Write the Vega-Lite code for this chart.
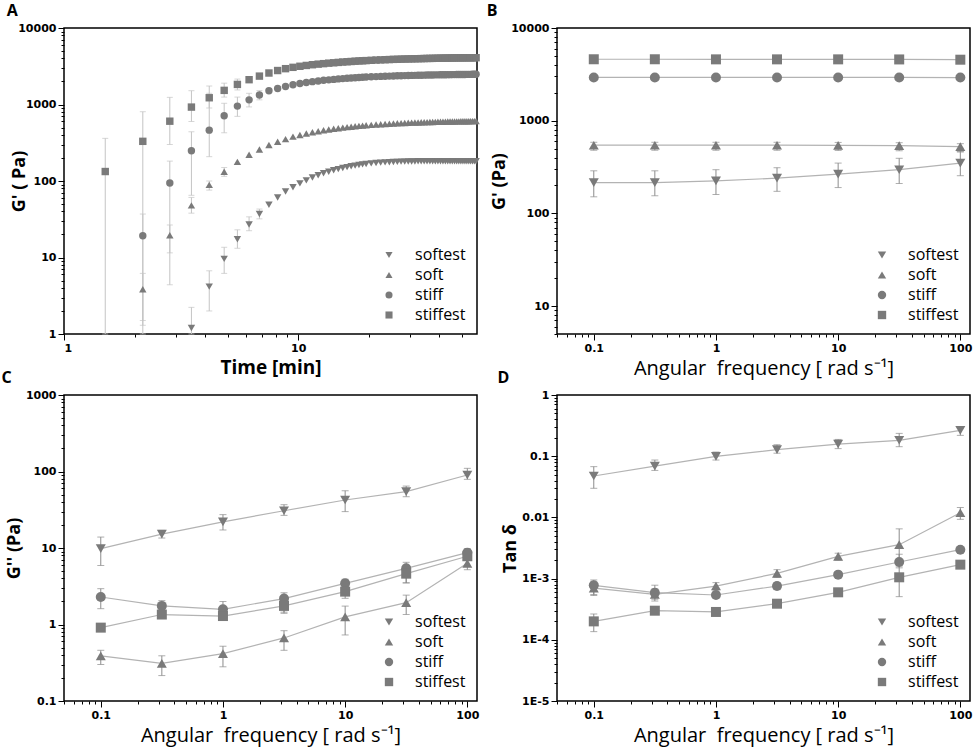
{
  "$schema": "https://vega.github.io/schema/vega-lite/v6.json",
  "padding": {"left": 0, "top": 2, "right": 2, "bottom": 2},
  "background": "white",
  "datasets": {
    "A": [
      {"s": "stiffest", "t": 1.5, "v": 133}, {"s": "stiffest", "t": 2.17, "v": 330}, {"s": "stiffest", "t": 2.83, "v": 605}, {"s": "stiffest", "t": 3.5, "v": 925},
      {"s": "stiffest", "t": 4.17, "v": 1225}, {"s": "stiffest", "t": 4.83, "v": 1530}, {"s": "stiffest", "t": 5.5, "v": 1830}, {"s": "stiffest", "t": 6.17, "v": 2110},
      {"s": "stiffest", "t": 6.83, "v": 2350}, {"s": "stiffest", "t": 7.5, "v": 2580}, {"s": "stiffest", "t": 8.17, "v": 2780}, {"s": "stiffest", "t": 8.83, "v": 2940},
      {"s": "stiffest", "t": 9.5, "v": 3060}, {"s": "stiffest", "t": 10.17, "v": 3160}, {"s": "stiffest", "t": 10.83, "v": 3240}, {"s": "stiffest", "t": 11.5, "v": 3310},
      {"s": "stiffest", "t": 12.17, "v": 3370}, {"s": "stiffest", "t": 12.83, "v": 3420}, {"s": "stiffest", "t": 13.5, "v": 3470}, {"s": "stiffest", "t": 14.17, "v": 3510},
      {"s": "stiffest", "t": 14.83, "v": 3550}, {"s": "stiffest", "t": 15.5, "v": 3590}, {"s": "stiffest", "t": 16.17, "v": 3620}, {"s": "stiffest", "t": 16.83, "v": 3650},
      {"s": "stiffest", "t": 17.5, "v": 3680}, {"s": "stiffest", "t": 18.17, "v": 3710}, {"s": "stiffest", "t": 18.83, "v": 3730}, {"s": "stiffest", "t": 19.5, "v": 3750},
      {"s": "stiffest", "t": 20.5, "v": 3780}, {"s": "stiffest", "t": 21.5, "v": 3810}, {"s": "stiffest", "t": 22.5, "v": 3830}, {"s": "stiffest", "t": 23.5, "v": 3850},
      {"s": "stiffest", "t": 24.5, "v": 3870}, {"s": "stiffest", "t": 25.5, "v": 3890}, {"s": "stiffest", "t": 26.5, "v": 3900}, {"s": "stiffest", "t": 27.5, "v": 3920},
      {"s": "stiffest", "t": 28.5, "v": 3930}, {"s": "stiffest", "t": 29.5, "v": 3940}, {"s": "stiffest", "t": 30.5, "v": 3950}, {"s": "stiffest", "t": 31.5, "v": 3960},
      {"s": "stiffest", "t": 32.5, "v": 3970}, {"s": "stiffest", "t": 33.5, "v": 3980}, {"s": "stiffest", "t": 34.5, "v": 3990}, {"s": "stiffest", "t": 35.5, "v": 4000},
      {"s": "stiffest", "t": 36.5, "v": 4005}, {"s": "stiffest", "t": 37.5, "v": 4010}, {"s": "stiffest", "t": 38.5, "v": 4020}, {"s": "stiffest", "t": 39.5, "v": 4025},
      {"s": "stiffest", "t": 40.5, "v": 4030}, {"s": "stiffest", "t": 41.5, "v": 4035}, {"s": "stiffest", "t": 42.5, "v": 4040}, {"s": "stiffest", "t": 43.5, "v": 4045},
      {"s": "stiffest", "t": 44.5, "v": 4050}, {"s": "stiffest", "t": 45.5, "v": 4055}, {"s": "stiffest", "t": 46.5, "v": 4060}, {"s": "stiffest", "t": 47.5, "v": 4065},
      {"s": "stiffest", "t": 48.5, "v": 4070}, {"s": "stiffest", "t": 49.5, "v": 4070}, {"s": "stiffest", "t": 50.5, "v": 4075}, {"s": "stiffest", "t": 51.5, "v": 4080},
      {"s": "stiffest", "t": 52.5, "v": 4080}, {"s": "stiffest", "t": 53.5, "v": 4085}, {"s": "stiffest", "t": 54.5, "v": 4085}, {"s": "stiffest", "t": 55.5, "v": 4090},
      {"s": "stiffest", "t": 56.5, "v": 4090}, {"s": "stiffest", "t": 57.5, "v": 4090},

      {"s": "stiff", "t": 2.17, "v": 19.2}, {"s": "stiff", "t": 2.83, "v": 94}, {"s": "stiff", "t": 3.5, "v": 248},
      {"s": "stiff", "t": 4.17, "v": 462}, {"s": "stiff", "t": 4.83, "v": 713}, {"s": "stiff", "t": 5.5, "v": 953}, {"s": "stiff", "t": 6.17, "v": 1150},
      {"s": "stiff", "t": 6.83, "v": 1330}, {"s": "stiff", "t": 7.5, "v": 1510}, {"s": "stiff", "t": 8.17, "v": 1620}, {"s": "stiff", "t": 8.83, "v": 1720},
      {"s": "stiff", "t": 9.5, "v": 1810}, {"s": "stiff", "t": 10.17, "v": 1880}, {"s": "stiff", "t": 10.83, "v": 1940}, {"s": "stiff", "t": 11.5, "v": 1990},
      {"s": "stiff", "t": 12.17, "v": 2030}, {"s": "stiff", "t": 12.83, "v": 2070}, {"s": "stiff", "t": 13.5, "v": 2100}, {"s": "stiff", "t": 14.17, "v": 2130},
      {"s": "stiff", "t": 14.83, "v": 2160}, {"s": "stiff", "t": 15.5, "v": 2180}, {"s": "stiff", "t": 16.17, "v": 2200}, {"s": "stiff", "t": 16.83, "v": 2220},
      {"s": "stiff", "t": 17.5, "v": 2240}, {"s": "stiff", "t": 18.17, "v": 2255}, {"s": "stiff", "t": 18.83, "v": 2270}, {"s": "stiff", "t": 19.5, "v": 2285},
      {"s": "stiff", "t": 20.5, "v": 2300}, {"s": "stiff", "t": 21.5, "v": 2315}, {"s": "stiff", "t": 22.5, "v": 2330}, {"s": "stiff", "t": 23.5, "v": 2340},
      {"s": "stiff", "t": 24.5, "v": 2350}, {"s": "stiff", "t": 25.5, "v": 2360}, {"s": "stiff", "t": 26.5, "v": 2370}, {"s": "stiff", "t": 27.5, "v": 2380},
      {"s": "stiff", "t": 28.5, "v": 2385}, {"s": "stiff", "t": 29.5, "v": 2390}, {"s": "stiff", "t": 30.5, "v": 2400}, {"s": "stiff", "t": 31.5, "v": 2405},
      {"s": "stiff", "t": 32.5, "v": 2410}, {"s": "stiff", "t": 33.5, "v": 2415}, {"s": "stiff", "t": 34.5, "v": 2420}, {"s": "stiff", "t": 35.5, "v": 2425},
      {"s": "stiff", "t": 36.5, "v": 2430}, {"s": "stiff", "t": 37.5, "v": 2435}, {"s": "stiff", "t": 38.5, "v": 2440}, {"s": "stiff", "t": 39.5, "v": 2440},
      {"s": "stiff", "t": 40.5, "v": 2445}, {"s": "stiff", "t": 41.5, "v": 2450}, {"s": "stiff", "t": 42.5, "v": 2450}, {"s": "stiff", "t": 43.5, "v": 2455},
      {"s": "stiff", "t": 44.5, "v": 2455}, {"s": "stiff", "t": 45.5, "v": 2460}, {"s": "stiff", "t": 46.5, "v": 2460}, {"s": "stiff", "t": 47.5, "v": 2465},
      {"s": "stiff", "t": 48.5, "v": 2465}, {"s": "stiff", "t": 49.5, "v": 2470}, {"s": "stiff", "t": 50.5, "v": 2470}, {"s": "stiff", "t": 51.5, "v": 2470},
      {"s": "stiff", "t": 52.5, "v": 2475}, {"s": "stiff", "t": 53.5, "v": 2475}, {"s": "stiff", "t": 54.5, "v": 2475}, {"s": "stiff", "t": 55.5, "v": 2480},
      {"s": "stiff", "t": 56.5, "v": 2480}, {"s": "stiff", "t": 57.5, "v": 2480},

      {"s": "soft", "t": 2.17, "v": 3.84}, {"s": "soft", "t": 2.83, "v": 19.5}, {"s": "soft", "t": 3.5, "v": 48},
      {"s": "soft", "t": 4.17, "v": 89}, {"s": "soft", "t": 4.83, "v": 132}, {"s": "soft", "t": 5.5, "v": 178}, {"s": "soft", "t": 6.17, "v": 220},
      {"s": "soft", "t": 6.83, "v": 258}, {"s": "soft", "t": 7.5, "v": 295}, {"s": "soft", "t": 8.17, "v": 326}, {"s": "soft", "t": 8.83, "v": 353},
      {"s": "soft", "t": 9.5, "v": 380}, {"s": "soft", "t": 10.17, "v": 400}, {"s": "soft", "t": 10.83, "v": 418}, {"s": "soft", "t": 11.5, "v": 434},
      {"s": "soft", "t": 12.17, "v": 448}, {"s": "soft", "t": 12.83, "v": 460}, {"s": "soft", "t": 13.5, "v": 471}, {"s": "soft", "t": 14.17, "v": 481},
      {"s": "soft", "t": 14.83, "v": 490}, {"s": "soft", "t": 15.5, "v": 498}, {"s": "soft", "t": 16.17, "v": 506}, {"s": "soft", "t": 16.83, "v": 513},
      {"s": "soft", "t": 17.5, "v": 519}, {"s": "soft", "t": 18.17, "v": 525}, {"s": "soft", "t": 18.83, "v": 530}, {"s": "soft", "t": 19.5, "v": 535},
      {"s": "soft", "t": 20.5, "v": 541}, {"s": "soft", "t": 21.5, "v": 547}, {"s": "soft", "t": 22.5, "v": 552}, {"s": "soft", "t": 23.5, "v": 557},
      {"s": "soft", "t": 24.5, "v": 561}, {"s": "soft", "t": 25.5, "v": 565}, {"s": "soft", "t": 26.5, "v": 568}, {"s": "soft", "t": 27.5, "v": 571},
      {"s": "soft", "t": 28.5, "v": 574}, {"s": "soft", "t": 29.5, "v": 577}, {"s": "soft", "t": 30.5, "v": 579}, {"s": "soft", "t": 31.5, "v": 581},
      {"s": "soft", "t": 32.5, "v": 583}, {"s": "soft", "t": 33.5, "v": 585}, {"s": "soft", "t": 34.5, "v": 587}, {"s": "soft", "t": 35.5, "v": 589},
      {"s": "soft", "t": 36.5, "v": 590}, {"s": "soft", "t": 37.5, "v": 592}, {"s": "soft", "t": 38.5, "v": 593}, {"s": "soft", "t": 39.5, "v": 594},
      {"s": "soft", "t": 40.5, "v": 595}, {"s": "soft", "t": 41.5, "v": 596}, {"s": "soft", "t": 42.5, "v": 597}, {"s": "soft", "t": 43.5, "v": 598},
      {"s": "soft", "t": 44.5, "v": 599}, {"s": "soft", "t": 45.5, "v": 600}, {"s": "soft", "t": 46.5, "v": 601}, {"s": "soft", "t": 47.5, "v": 602},
      {"s": "soft", "t": 48.5, "v": 602}, {"s": "soft", "t": 49.5, "v": 603}, {"s": "soft", "t": 50.5, "v": 604}, {"s": "soft", "t": 51.5, "v": 604},
      {"s": "soft", "t": 52.5, "v": 605}, {"s": "soft", "t": 53.5, "v": 605}, {"s": "soft", "t": 54.5, "v": 606}, {"s": "soft", "t": 55.5, "v": 606},
      {"s": "soft", "t": 56.5, "v": 607}, {"s": "soft", "t": 57.5, "v": 607},

      {"s": "softest", "t": 3.5, "v": 1.2},
      {"s": "softest", "t": 4.17, "v": 4.16}, {"s": "softest", "t": 4.83, "v": 9.6}, {"s": "softest", "t": 5.5, "v": 17.3}, {"s": "softest", "t": 6.17, "v": 27},
      {"s": "softest", "t": 6.83, "v": 37}, {"s": "softest", "t": 7.5, "v": 49}, {"s": "softest", "t": 8.17, "v": 61}, {"s": "softest", "t": 8.83, "v": 73},
      {"s": "softest", "t": 9.5, "v": 83}, {"s": "softest", "t": 10.17, "v": 93}, {"s": "softest", "t": 10.83, "v": 102}, {"s": "softest", "t": 11.5, "v": 111},
      {"s": "softest", "t": 12.17, "v": 119}, {"s": "softest", "t": 12.83, "v": 126}, {"s": "softest", "t": 13.5, "v": 132}, {"s": "softest", "t": 14.17, "v": 138},
      {"s": "softest", "t": 14.83, "v": 143}, {"s": "softest", "t": 15.5, "v": 148}, {"s": "softest", "t": 16.17, "v": 152}, {"s": "softest", "t": 16.83, "v": 156},
      {"s": "softest", "t": 17.5, "v": 159}, {"s": "softest", "t": 18.17, "v": 162}, {"s": "softest", "t": 18.83, "v": 165}, {"s": "softest", "t": 19.5, "v": 167},
      {"s": "softest", "t": 20.5, "v": 170}, {"s": "softest", "t": 21.5, "v": 172}, {"s": "softest", "t": 22.5, "v": 174}, {"s": "softest", "t": 23.5, "v": 175},
      {"s": "softest", "t": 24.5, "v": 176}, {"s": "softest", "t": 25.5, "v": 177}, {"s": "softest", "t": 26.5, "v": 178}, {"s": "softest", "t": 27.5, "v": 179},
      {"s": "softest", "t": 28.5, "v": 179}, {"s": "softest", "t": 29.5, "v": 180}, {"s": "softest", "t": 30.5, "v": 180}, {"s": "softest", "t": 31.5, "v": 180},
      {"s": "softest", "t": 32.5, "v": 181}, {"s": "softest", "t": 33.5, "v": 181}, {"s": "softest", "t": 34.5, "v": 181}, {"s": "softest", "t": 35.5, "v": 181},
      {"s": "softest", "t": 36.5, "v": 181}, {"s": "softest", "t": 37.5, "v": 181}, {"s": "softest", "t": 38.5, "v": 181}, {"s": "softest", "t": 39.5, "v": 181},
      {"s": "softest", "t": 40.5, "v": 181}, {"s": "softest", "t": 41.5, "v": 181}, {"s": "softest", "t": 42.5, "v": 181}, {"s": "softest", "t": 43.5, "v": 181},
      {"s": "softest", "t": 44.5, "v": 181}, {"s": "softest", "t": 45.5, "v": 181}, {"s": "softest", "t": 46.5, "v": 181}, {"s": "softest", "t": 47.5, "v": 181},
      {"s": "softest", "t": 48.5, "v": 181}, {"s": "softest", "t": 49.5, "v": 181}, {"s": "softest", "t": 50.5, "v": 181}, {"s": "softest", "t": 51.5, "v": 181},
      {"s": "softest", "t": 52.5, "v": 181}, {"s": "softest", "t": 53.5, "v": 181}, {"s": "softest", "t": 54.5, "v": 181}, {"s": "softest", "t": 55.5, "v": 181},
      {"s": "softest", "t": 56.5, "v": 181}, {"s": "softest", "t": 57.5, "v": 181}
    ],
    "Aerr": [
      {"s": "stiffest", "t": 1.5, "lo": 1, "hi": 361},
      {"s": "stiffest", "t": 2.17, "lo": 1, "hi": 805},
      {"s": "stiff", "t": 2.17, "lo": 1.3, "hi": 37},
      {"s": "soft", "t": 2.17, "lo": 1.5, "hi": 6.2},
      {"s": "stiffest", "t": 2.83, "lo": 300, "hi": 1240},
      {"s": "stiff", "t": 2.83, "lo": 4.4, "hi": 182},
      {"s": "soft", "t": 2.83, "lo": 11.5, "hi": 26.6},
      {"s": "stiffest", "t": 3.5, "lo": 600, "hi": 1515},
      {"s": "stiff", "t": 3.5, "lo": 65, "hi": 440},
      {"s": "soft", "t": 3.5, "lo": 38, "hi": 61},
      {"s": "softest", "t": 3.5, "lo": 1, "hi": 2.23},
      {"s": "stiffest", "t": 4.17, "lo": 900, "hi": 1745},
      {"s": "stiff", "t": 4.17, "lo": 208, "hi": 1400},
      {"s": "soft", "t": 4.17, "lo": 76, "hi": 100},
      {"s": "softest", "t": 4.17, "lo": 2.0, "hi": 6.7},
      {"s": "stiffest", "t": 4.83, "lo": 1250, "hi": 1900},
      {"s": "stiff", "t": 4.83, "lo": 427, "hi": 1037},
      {"s": "soft", "t": 4.83, "lo": 115, "hi": 150},
      {"s": "softest", "t": 4.83, "lo": 6.2, "hi": 13.6},
      {"s": "stiffest", "t": 5.5, "lo": 1550, "hi": 2150},
      {"s": "stiff", "t": 5.5, "lo": 700, "hi": 1250},
      {"s": "softest", "t": 5.5, "lo": 13.2, "hi": 23},
      {"s": "stiff", "t": 6.17, "lo": 930, "hi": 1400},
      {"s": "softest", "t": 6.17, "lo": 22.4, "hi": 34},
      {"s": "stiff", "t": 6.83, "lo": 1150, "hi": 1520},
      {"s": "softest", "t": 6.83, "lo": 32, "hi": 43}
    ],
    "B": [
      {"s": "softest", "w": 0.1, "v": 215, "lo": 151, "hi": 288},
      {"s": "softest", "w": 0.316, "v": 215, "lo": 155, "hi": 288},
      {"s": "softest", "w": 1, "v": 224, "lo": 160, "hi": 296},
      {"s": "softest", "w": 3.16, "v": 240, "lo": 173, "hi": 311},
      {"s": "softest", "w": 10, "v": 265, "lo": 190, "hi": 349},
      {"s": "softest", "w": 31.6, "v": 296, "lo": 210, "hi": 393},
      {"s": "softest", "w": 100, "v": 349, "lo": 255, "hi": 464},
      {"s": "soft", "w": 0.1, "v": 544, "lo": 480, "hi": 585},
      {"s": "soft", "w": 0.316, "v": 544, "lo": 480, "hi": 585},
      {"s": "soft", "w": 1, "v": 544, "lo": 480, "hi": 585},
      {"s": "soft", "w": 3.16, "v": 544, "lo": 480, "hi": 585},
      {"s": "soft", "w": 10, "v": 542, "lo": 478, "hi": 583},
      {"s": "soft", "w": 31.6, "v": 538, "lo": 474, "hi": 579},
      {"s": "soft", "w": 100, "v": 525, "lo": 460, "hi": 565},
      {"s": "stiff", "w": 0.1, "v": 2930, "lo": 2820, "hi": 3030},
      {"s": "stiff", "w": 0.316, "v": 2930, "lo": 2820, "hi": 3030},
      {"s": "stiff", "w": 1, "v": 2930, "lo": 2820, "hi": 3030},
      {"s": "stiff", "w": 3.16, "v": 2930, "lo": 2820, "hi": 3030},
      {"s": "stiff", "w": 10, "v": 2930, "lo": 2820, "hi": 3030},
      {"s": "stiff", "w": 31.6, "v": 2930, "lo": 2820, "hi": 3030},
      {"s": "stiff", "w": 100, "v": 2920, "lo": 2810, "hi": 3020},
      {"s": "stiffest", "w": 0.1, "v": 4600, "lo": 4450, "hi": 4750},
      {"s": "stiffest", "w": 0.316, "v": 4600, "lo": 4450, "hi": 4750},
      {"s": "stiffest", "w": 1, "v": 4590, "lo": 4450, "hi": 4750},
      {"s": "stiffest", "w": 3.16, "v": 4590, "lo": 4450, "hi": 4750},
      {"s": "stiffest", "w": 10, "v": 4590, "lo": 4450, "hi": 4750},
      {"s": "stiffest", "w": 31.6, "v": 4580, "lo": 4450, "hi": 4750},
      {"s": "stiffest", "w": 100, "v": 4550, "lo": 4400, "hi": 4700}
    ],
    "C": [
      {"s": "softest", "w": 0.1, "v": 9.8, "lo": 5.9, "hi": 13.9},
      {"s": "softest", "w": 0.316, "v": 15.2, "lo": 13.5, "hi": 17},
      {"s": "softest", "w": 1, "v": 22, "lo": 17.2, "hi": 27.3},
      {"s": "softest", "w": 3.16, "v": 30.7, "lo": 26.7, "hi": 36.8},
      {"s": "softest", "w": 10, "v": 42.4, "lo": 29.9, "hi": 56},
      {"s": "softest", "w": 31.6, "v": 54.5, "lo": 46.8, "hi": 64.5},
      {"s": "softest", "w": 100, "v": 90, "lo": 79, "hi": 110},
      {"s": "soft", "w": 0.1, "v": 0.388, "lo": 0.3, "hi": 0.46},
      {"s": "soft", "w": 0.316, "v": 0.31, "lo": 0.215, "hi": 0.39},
      {"s": "soft", "w": 1, "v": 0.416, "lo": 0.28, "hi": 0.52},
      {"s": "soft", "w": 3.16, "v": 0.667, "lo": 0.46, "hi": 0.83},
      {"s": "soft", "w": 10, "v": 1.26, "lo": 0.73, "hi": 1.74},
      {"s": "soft", "w": 31.6, "v": 1.93, "lo": 1.35, "hi": 2.42},
      {"s": "soft", "w": 100, "v": 6.3, "lo": 5.2, "hi": 7.9},
      {"s": "stiff", "w": 0.1, "v": 2.29, "lo": 1.61, "hi": 2.94},
      {"s": "stiff", "w": 0.316, "v": 1.75, "lo": 1.47, "hi": 2.05},
      {"s": "stiff", "w": 1, "v": 1.58, "lo": 1.15, "hi": 2.0},
      {"s": "stiff", "w": 3.16, "v": 2.18, "lo": 1.4, "hi": 2.6},
      {"s": "stiff", "w": 10, "v": 3.45, "lo": 2.9, "hi": 3.9},
      {"s": "stiff", "w": 31.6, "v": 5.42, "lo": 3.5, "hi": 6.5},
      {"s": "stiff", "w": 100, "v": 8.7, "lo": 7.5, "hi": 9.8},
      {"s": "stiffest", "w": 0.1, "v": 0.91, "lo": 0.85, "hi": 0.97},
      {"s": "stiffest", "w": 0.316, "v": 1.35, "lo": 1.25, "hi": 1.45},
      {"s": "stiffest", "w": 1, "v": 1.29, "lo": 1.15, "hi": 1.45},
      {"s": "stiffest", "w": 3.16, "v": 1.75, "lo": 1.45, "hi": 2.0},
      {"s": "stiffest", "w": 10, "v": 2.69, "lo": 2.2, "hi": 3.1},
      {"s": "stiffest", "w": 31.6, "v": 4.62, "lo": 3.5, "hi": 5.5},
      {"s": "stiffest", "w": 100, "v": 7.8, "lo": 7.0, "hi": 8.5}
    ],
    "D": [
      {"s": "softest", "w": 0.1, "v": 0.0475, "lo": 0.0299, "hi": 0.0675},
      {"s": "softest", "w": 0.316, "v": 0.069, "lo": 0.0586, "hi": 0.0866},
      {"s": "softest", "w": 1, "v": 0.0995, "lo": 0.0866, "hi": 0.117},
      {"s": "softest", "w": 3.16, "v": 0.128, "lo": 0.112, "hi": 0.154},
      {"s": "softest", "w": 10, "v": 0.158, "lo": 0.133, "hi": 0.188},
      {"s": "softest", "w": 31.6, "v": 0.182, "lo": 0.143, "hi": 0.236},
      {"s": "softest", "w": 100, "v": 0.265, "lo": 0.219, "hi": 0.304},
      {"s": "soft", "w": 0.1, "v": 0.0007, "lo": 0.00055, "hi": 0.00088},
      {"s": "soft", "w": 0.316, "v": 0.000553, "lo": 0.00043, "hi": 0.00068},
      {"s": "soft", "w": 1, "v": 0.000756, "lo": 0.00065, "hi": 0.00086},
      {"s": "soft", "w": 3.16, "v": 0.00122, "lo": 0.00105, "hi": 0.0014},
      {"s": "soft", "w": 10, "v": 0.00231, "lo": 0.002, "hi": 0.0026},
      {"s": "soft", "w": 31.6, "v": 0.00358, "lo": 0.002, "hi": 0.0065},
      {"s": "soft", "w": 100, "v": 0.0119, "lo": 0.0093, "hi": 0.0145},
      {"s": "stiff", "w": 0.1, "v": 0.000776, "lo": 0.00053, "hi": 0.00095},
      {"s": "stiff", "w": 0.316, "v": 0.000589, "lo": 0.00046, "hi": 0.00078},
      {"s": "stiff", "w": 1, "v": 0.00054, "lo": 0.00049, "hi": 0.0006},
      {"s": "stiff", "w": 3.16, "v": 0.000756, "lo": 0.00066, "hi": 0.00086},
      {"s": "stiff", "w": 10, "v": 0.00116, "lo": 0.00105, "hi": 0.00128},
      {"s": "stiff", "w": 31.6, "v": 0.00187, "lo": 0.0015, "hi": 0.0025},
      {"s": "stiff", "w": 100, "v": 0.00297, "lo": 0.0027, "hi": 0.0032},
      {"s": "stiffest", "w": 0.1, "v": 0.0002, "lo": 0.000136, "hi": 0.000264},
      {"s": "stiffest", "w": 0.316, "v": 0.000299, "lo": 0.000275, "hi": 0.00032},
      {"s": "stiffest", "w": 1, "v": 0.000285, "lo": 0.000265, "hi": 0.000305},
      {"s": "stiffest", "w": 3.16, "v": 0.000389, "lo": 0.00036, "hi": 0.00042},
      {"s": "stiffest", "w": 10, "v": 0.000597, "lo": 0.00055, "hi": 0.00065},
      {"s": "stiffest", "w": 31.6, "v": 0.00105, "lo": 0.000507, "hi": 0.0016},
      {"s": "stiffest", "w": 100, "v": 0.00169, "lo": 0.00155, "hi": 0.00185}
    ]
  },
  "columns": 2,
  "spacing": {"row": -10, "column": 4},
  "resolve": {"scale": {"shape": "independent"}},
  "concat": [
    {
      "title": {"text": "A", "dx": -4},
      "width": 413,
      "height": 306,
      "layer": [
        {
          "data": {"name": "Aerr"},
          "mark": {"type": "rule", "color": "#c4c4c4", "strokeWidth": 1},
          "encoding": {
            "x": {"field": "t", "type": "quantitative", "scale": {"type": "log", "domain": [1, 58]},
                  "axis": {"values": [2, 3, 4, 5, 6, 7, 8, 9, 20, 30, 40, 50], "labels": false, "tickSize": 3, "title": null, "orient": "bottom"}},
            "y": {"field": "lo", "type": "quantitative", "scale": {"type": "log", "domain": [1, 10000]},
                  "axis": {"values": [2, 3, 4, 5, 6, 7, 8, 9, 20, 30, 40, 50, 60, 70, 80, 90, 200, 300, 400, 500, 600, 700, 800, 900, 2000, 3000, 4000, 5000, 6000, 7000, 8000, 9000], "labels": false, "tickSize": 3, "title": null, "orient": "left"}},
            "y2": {"field": "hi"}
          }
        },
        {
          "data": {"name": "Aerr"},
          "transform": [{"fold": ["lo", "hi"], "as": ["bound", "bv"]}],
          "mark": {"type": "tick", "orient": "horizontal", "color": "#c4c4c4", "size": 6, "thickness": 1},
          "encoding": {
            "x": {"field": "t", "type": "quantitative", "scale": {"type": "log", "domain": [1, 58]}, "axis": null},
            "y": {"field": "bv", "type": "quantitative", "scale": {"type": "log", "domain": [1, 10000]}, "axis": null}
          }
        },
        {
          "data": {"name": "A"},
          "mark": {"type": "point", "filled": true, "color": "#7a7a7a", "opacity": 1, "size": 55},
          "encoding": {
            "x": {"field": "t", "type": "quantitative", "scale": {"type": "log", "domain": [1, 58]},
                  "axis": {"values": [1, 10], "tickSize": 6, "labelExpr": "toString(datum.value)", "title": "Time [min]", "titleFontWeight": "bold", "titleFontSize": 19, "titlePadding": 5, "orient": "bottom"}},
            "y": {"field": "v", "type": "quantitative", "scale": {"type": "log", "domain": [1, 10000]},
                  "axis": {"values": [1, 10, 100, 1000, 10000], "tickSize": 6, "labelExpr": "toString(datum.value)", "title": "G' ( Pa)", "titleFontWeight": "bold", "titleFontSize": 18, "titlePadding": -11, "orient": "left"}},
            "shape": {"field": "s", "type": "nominal",
                      "scale": {"domain": ["softest", "soft", "stiff", "stiffest"], "range": ["triangle-down", "triangle-up", "circle", "square"]},
                      "legend": {"symbolSize": 50}}
          }
        }
      ],
      "resolve": {"axis": {"x": "independent", "y": "independent"}}
    },
    {
      "title": {"text": "B", "dx": -4},
      "width": 413,
      "height": 306,
      "data": {"name": "B"},
      "layer": [
        {
          "mark": {"type": "rule", "color": "#8c8c8c", "strokeWidth": 1},
          "encoding": {
            "x": {"field": "w", "type": "quantitative", "scale": {"type": "log", "domain": [0.05, 120]},
                  "axis": {"values": [0.05, 0.06, 0.07, 0.08, 0.09, 0.2, 0.3, 0.4, 0.5, 0.6, 0.7, 0.8, 0.9, 2, 3, 4, 5, 6, 7, 8, 9, 20, 30, 40, 50, 60, 70, 80, 90], "labels": false, "tickSize": 3, "title": null, "orient": "bottom"}},
            "y": {"field": "lo", "type": "quantitative", "scale": {"type": "log", "domain": [5, 10000]},
                  "axis": {"values": [5, 6, 7, 8, 9, 20, 30, 40, 50, 60, 70, 80, 90, 200, 300, 400, 500, 600, 700, 800, 900, 2000, 3000, 4000, 5000, 6000, 7000, 8000, 9000], "labels": false, "tickSize": 3, "title": null, "orient": "left"}},
            "y2": {"field": "hi"}
          }
        },
        {
          "transform": [{"fold": ["lo", "hi"], "as": ["bound", "bv"]}],
          "mark": {"type": "tick", "orient": "horizontal", "color": "#8c8c8c", "size": 7, "thickness": 1},
          "encoding": {
            "x": {"field": "w", "type": "quantitative", "scale": {"type": "log", "domain": [0.05, 120]}, "axis": null},
            "y": {"field": "bv", "type": "quantitative", "scale": {"type": "log", "domain": [5, 10000]}, "axis": null}
          }
        },
        {
          "mark": {"type": "line", "color": "#b3b3b3", "strokeWidth": 1.2},
          "encoding": {
            "x": {"field": "w", "type": "quantitative", "scale": {"type": "log", "domain": [0.05, 120]}, "axis": null},
            "y": {"field": "v", "type": "quantitative", "scale": {"type": "log", "domain": [5, 10000]}, "axis": null},
            "detail": {"field": "s"}
          }
        },
        {
          "mark": {"type": "point", "filled": true, "color": "#7a7a7a", "opacity": 1, "size": 100},
          "encoding": {
            "x": {"field": "w", "type": "quantitative", "scale": {"type": "log", "domain": [0.05, 120]},
                  "axis": {"values": [0.1, 1, 10, 100], "tickSize": 6, "labelExpr": "toString(datum.value)", "title": "Angular\u00a0 frequency [ rad s⁻¹]", "titleFontWeight": "normal", "titleFontSize": 20, "titlePadding": 5, "orient": "bottom"}},
            "y": {"field": "v", "type": "quantitative", "scale": {"type": "log", "domain": [5, 10000]},
                  "axis": {"values": [10, 100, 1000, 10000], "tickSize": 6, "labelExpr": "toString(datum.value)", "title": "G' (Pa)", "titleFontWeight": "bold", "titleFontSize": 18, "titlePadding": 2, "orient": "left"}},
            "shape": {"field": "s", "type": "nominal",
                      "scale": {"domain": ["softest", "soft", "stiff", "stiffest"], "range": ["triangle-down", "triangle-up", "circle", "square"]},
                      "legend": {}}
          }
        }
      ],
      "resolve": {"axis": {"x": "independent", "y": "independent"}}
    },
    {
      "title": {"text": "C", "dx": -4},
      "width": 413,
      "height": 306,
      "data": {"name": "C"},
      "layer": [
        {
          "mark": {"type": "rule", "color": "#8c8c8c", "strokeWidth": 1},
          "encoding": {
            "x": {"field": "w", "type": "quantitative", "scale": {"type": "log", "domain": [0.05, 120]},
                  "axis": {"values": [0.05, 0.06, 0.07, 0.08, 0.09, 0.2, 0.3, 0.4, 0.5, 0.6, 0.7, 0.8, 0.9, 2, 3, 4, 5, 6, 7, 8, 9, 20, 30, 40, 50, 60, 70, 80, 90], "labels": false, "tickSize": 3, "title": null, "orient": "bottom"}},
            "y": {"field": "lo", "type": "quantitative", "scale": {"type": "log", "domain": [0.1, 1000]},
                  "axis": {"values": [0.2, 0.3, 0.4, 0.5, 0.6, 0.7, 0.8, 0.9, 2, 3, 4, 5, 6, 7, 8, 9, 20, 30, 40, 50, 60, 70, 80, 90, 200, 300, 400, 500, 600, 700, 800, 900], "labels": false, "tickSize": 3, "title": null, "orient": "left"}},
            "y2": {"field": "hi"}
          }
        },
        {
          "transform": [{"fold": ["lo", "hi"], "as": ["bound", "bv"]}],
          "mark": {"type": "tick", "orient": "horizontal", "color": "#8c8c8c", "size": 7, "thickness": 1},
          "encoding": {
            "x": {"field": "w", "type": "quantitative", "scale": {"type": "log", "domain": [0.05, 120]}, "axis": null},
            "y": {"field": "bv", "type": "quantitative", "scale": {"type": "log", "domain": [0.1, 1000]}, "axis": null}
          }
        },
        {
          "mark": {"type": "line", "color": "#b3b3b3", "strokeWidth": 1.2},
          "encoding": {
            "x": {"field": "w", "type": "quantitative", "scale": {"type": "log", "domain": [0.05, 120]}, "axis": null},
            "y": {"field": "v", "type": "quantitative", "scale": {"type": "log", "domain": [0.1, 1000]}, "axis": null},
            "detail": {"field": "s"}
          }
        },
        {
          "mark": {"type": "point", "filled": true, "color": "#7a7a7a", "opacity": 1, "size": 100},
          "encoding": {
            "x": {"field": "w", "type": "quantitative", "scale": {"type": "log", "domain": [0.05, 120]},
                  "axis": {"values": [0.1, 1, 10, 100], "tickSize": 6, "labelExpr": "toString(datum.value)", "title": "Angular\u00a0 frequency [ rad s⁻¹]", "titleFontWeight": "normal", "titleFontSize": 20, "titlePadding": 5, "orient": "bottom"}},
            "y": {"field": "v", "type": "quantitative", "scale": {"type": "log", "domain": [0.1, 1000]},
                  "axis": {"values": [0.1, 1, 10, 100, 1000], "tickSize": 6, "labelExpr": "toString(datum.value)", "title": "G'' (Pa)", "titleFontWeight": "bold", "titleFontSize": 18, "titlePadding": 2, "orient": "left"}},
            "shape": {"field": "s", "type": "nominal",
                      "scale": {"domain": ["softest", "soft", "stiff", "stiffest"], "range": ["triangle-down", "triangle-up", "circle", "square"]},
                      "legend": {}}
          }
        }
      ],
      "resolve": {"axis": {"x": "independent", "y": "independent"}}
    },
    {
      "title": {"text": "D", "dx": -4},
      "width": 413,
      "height": 306,
      "data": {"name": "D"},
      "layer": [
        {
          "mark": {"type": "rule", "color": "#8c8c8c", "strokeWidth": 1},
          "encoding": {
            "x": {"field": "w", "type": "quantitative", "scale": {"type": "log", "domain": [0.05, 120]},
                  "axis": {"values": [0.05, 0.06, 0.07, 0.08, 0.09, 0.2, 0.3, 0.4, 0.5, 0.6, 0.7, 0.8, 0.9, 2, 3, 4, 5, 6, 7, 8, 9, 20, 30, 40, 50, 60, 70, 80, 90], "labels": false, "tickSize": 3, "title": null, "orient": "bottom"}},
            "y": {"field": "lo", "type": "quantitative", "scale": {"type": "log", "domain": [0.00001, 1]},
                  "axis": {"values": [0.00002, 0.00003, 0.00004, 0.00005, 0.00006, 0.00007, 0.00008, 0.00009, 0.0002, 0.0003, 0.0004, 0.0005, 0.0006, 0.0007, 0.0008, 0.0009, 0.002, 0.003, 0.004, 0.005, 0.006, 0.007, 0.008, 0.009, 0.02, 0.03, 0.04, 0.05, 0.06, 0.07, 0.08, 0.09, 0.2, 0.3, 0.4, 0.5, 0.6, 0.7, 0.8, 0.9], "labels": false, "tickSize": 3, "title": null, "orient": "left"}},
            "y2": {"field": "hi"}
          }
        },
        {
          "transform": [{"fold": ["lo", "hi"], "as": ["bound", "bv"]}],
          "mark": {"type": "tick", "orient": "horizontal", "color": "#8c8c8c", "size": 7, "thickness": 1},
          "encoding": {
            "x": {"field": "w", "type": "quantitative", "scale": {"type": "log", "domain": [0.05, 120]}, "axis": null},
            "y": {"field": "bv", "type": "quantitative", "scale": {"type": "log", "domain": [0.00001, 1]}, "axis": null}
          }
        },
        {
          "mark": {"type": "line", "color": "#b3b3b3", "strokeWidth": 1.2},
          "encoding": {
            "x": {"field": "w", "type": "quantitative", "scale": {"type": "log", "domain": [0.05, 120]}, "axis": null},
            "y": {"field": "v", "type": "quantitative", "scale": {"type": "log", "domain": [0.00001, 1]}, "axis": null},
            "detail": {"field": "s"}
          }
        },
        {
          "mark": {"type": "point", "filled": true, "color": "#7a7a7a", "opacity": 1, "size": 100},
          "encoding": {
            "x": {"field": "w", "type": "quantitative", "scale": {"type": "log", "domain": [0.05, 120]},
                  "axis": {"values": [0.1, 1, 10, 100], "tickSize": 6, "labelExpr": "toString(datum.value)", "title": "Angular\u00a0 frequency [ rad s⁻¹]", "titleFontWeight": "normal", "titleFontSize": 20, "titlePadding": 5, "orient": "bottom"}},
            "y": {"field": "v", "type": "quantitative", "scale": {"type": "log", "domain": [0.00001, 1]},
                  "axis": {"values": [0.00001, 0.0001, 0.001, 0.01, 0.1, 1], "tickSize": 6, "labelExpr": "datum.value >= 0.01 ? toString(datum.value) : '1E' + round(log(datum.value) / LN10)", "title": "Tan δ", "titleFontWeight": "bold", "titleFontSize": 18, "titlePadding": 2, "orient": "left"}},
            "shape": {"field": "s", "type": "nominal",
                      "scale": {"domain": ["softest", "soft", "stiff", "stiffest"], "range": ["triangle-down", "triangle-up", "circle", "square"]},
                      "legend": {}}
          }
        }
      ],
      "resolve": {"axis": {"x": "independent", "y": "independent"}}
    }
  ],
  "config": {
    "view": {"stroke": "#000000", "strokeWidth": 1.5},
    "axis": {
      "grid": false,
      "domain": false,
      "labelFont": "DejaVu Sans",
      "labelFontSize": 11,
      "labelFontWeight": "bold",
      "labelColor": "#000000",
      "labelPadding": 2,
      "tickColor": "#000000",
      "tickWidth": 1,
      "titleFont": "Open Sans",
      "titleColor": "#000000"
    },
    "legend": {
      "orient": "bottom-right",
      "title": null,
      "offset": 11,
      "labelFont": "Open Sans",
      "labelFontSize": 16,
      "labelColor": "#000000",
      "labelOffset": 18,
      "rowPadding": 4,
      "symbolSize": 70,
      "symbolFillColor": "#7a7a7a",
      "symbolStrokeColor": "#7a7a7a",
      "symbolStrokeWidth": 0,
      "symbolOpacity": 1
    },
    "title": {
      "anchor": "start",
      "font": "Open Sans",
      "fontSize": 16,
      "fontWeight": "bold",
      "color": "#000000",
      "offset": 3
    }
  }
}
